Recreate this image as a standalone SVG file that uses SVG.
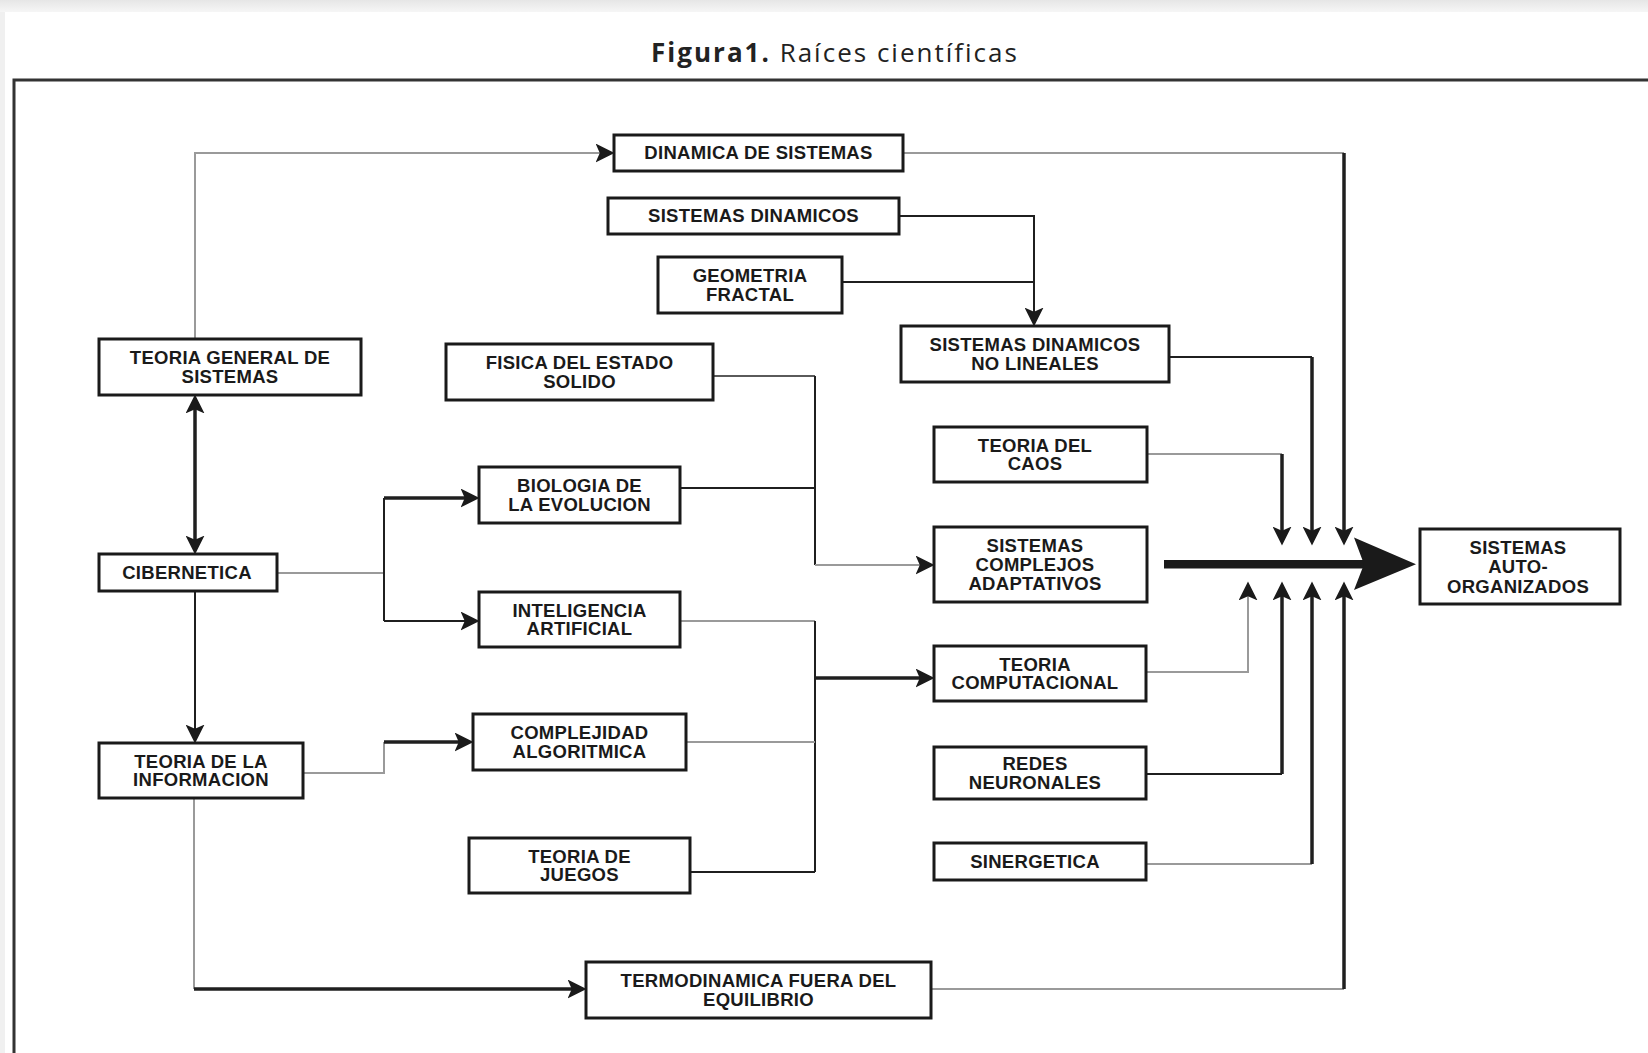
<svg xmlns="http://www.w3.org/2000/svg" width="1648" height="1053" viewBox="0 0 1648 1053">
<defs>
<linearGradient id="topband" x1="0" y1="0" x2="0" y2="1">
<stop offset="0" stop-color="#e6e6e6"/>
<stop offset="1" stop-color="#f6f6f6"/>
</linearGradient>
<marker id="ah" viewBox="0 0 18 18" markerWidth="19" markerHeight="19" refX="8" refY="9" orient="auto-start-reverse" markerUnits="userSpaceOnUse">
<path d="M0,0 L18,9 L0,18 L4,9 z" fill="#1a1a1a"/>
</marker>
</defs>
<style>
.box{fill:#fff;stroke:#1a1a1a;stroke-width:3}
.t{font-family:"Liberation Sans",Arial,sans-serif;font-weight:bold;font-size:18.5px;fill:#1a1a1a;text-anchor:middle;letter-spacing:0.3px}
.g{fill:none;stroke:#9a9a9a;stroke-width:2}
.d{fill:none;stroke:#5a5a5a;stroke-width:2}
.k{fill:none;stroke:#1f1f1f;stroke-width:2}
.K{fill:none;stroke:#1f1f1f;stroke-width:3.5}
.a{marker-end:url(#ah)}
</style>
<rect x="0" y="0" width="1648" height="1053" fill="#f0f0f0"/>
<rect x="0" y="0" width="1648" height="12" fill="url(#topband)"/>
<rect x="5" y="12" width="1643" height="1041" fill="#fff"/>
<text x="835" y="62" font-family="'Open Sans','Noto Sans',sans-serif" font-size="26" fill="#222" text-anchor="middle" letter-spacing="2"><tspan font-weight="bold">Figura1.</tspan> Raíces científicas</text>
<path d="M14,1053 V80 H1648" fill="none" stroke="#333" stroke-width="3"/>

<g id="connectors">
<path class="g a" d="M195,339 V153 H604"/>
<path class="g" d="M903,153 H1344"/>
<path class="K a" d="M1344,153 V535"/>
<path class="k a" d="M899,216 H1034 V316"/>
<path class="k" d="M842,282 H1034"/>
<path class="k" d="M1169,357 H1312" stroke-width="2.5"/>
<path class="K a" d="M1312,357 V535"/>
<path class="d" d="M713,376 H815"/>
<path class="k" d="M815,376 V565"/>
<path class="g a" d="M815,565 H924"/>
<path class="k" d="M680,488 H815"/>
<path class="g" d="M1147,454 H1282"/>
<path class="K a" d="M1282,454 V535"/>
<path class="g" d="M277,573 H384"/>
<path class="k" d="M384,498 V621"/>
<path class="K a" d="M384,498 H469"/>
<path class="k a" d="M384,621 H469"/>
<path class="g" d="M680,621 H815"/>
<path class="k" d="M815,621 V872"/>
<path class="K a" d="M815,678 H924"/>
<path class="g" d="M686,742 H815"/>
<path class="k" d="M690,872 H815"/>
<path class="g a" d="M1146,672 H1248 V592"/>
<path class="k" d="M1146,774 H1282" stroke-width="2.5"/>
<path class="K a" d="M1282,774 V592"/>
<path class="g" d="M1146,864 H1312"/>
<path class="K a" d="M1312,864 V592"/>
<path class="g" d="M931,989 H1344"/>
<path class="K a" d="M1344,989 V592"/>
<path class="K a" d="M195,405 V544" marker-start="url(#ah)"/>
<path class="k a" d="M195,591 V733"/>
<path class="g" d="M303,773 H384 V742"/>
<path class="K a" d="M384,742 H463"/>
<path class="g" d="M194,798 V989"/>
<path class="K a" d="M194,989 H576"/>
<rect x="1164" y="560" width="200" height="8.5" fill="#1a1a1a"/>
<polygon points="1354,537.5 1416,564.3 1354,590 1364,564.3" fill="#1a1a1a"/>
</g>

<g id="n-dinamica-sistemas"><rect class="box" x="614" y="135" width="289" height="36"/><text class="t" x="758.5" y="159.4">DINAMICA DE SISTEMAS</text></g>
<g id="n-sistemas-dinamicos"><rect class="box" x="608" y="198" width="291" height="36" stroke-width="3.5"/><text class="t" x="753.5" y="222.4">SISTEMAS DINAMICOS</text></g>
<g id="n-geometria-fractal"><rect class="box" x="658" y="257" width="184" height="56"/><text class="t" x="750" y="282">GEOMETRIA</text><text class="t" x="750" y="300.7">FRACTAL</text></g>
<g id="n-sdnl"><rect class="box" x="901" y="326" width="268" height="56"/><text class="t" x="1035" y="351">SISTEMAS DINAMICOS</text><text class="t" x="1035" y="369.7">NO LINEALES</text></g>
<g id="n-tgs"><rect class="box" x="99" y="339" width="262" height="56"/><text class="t" x="230" y="364">TEORIA GENERAL DE</text><text class="t" x="230" y="382.7">SISTEMAS</text></g>
<g id="n-fisica"><rect class="box" x="446" y="344" width="267" height="56"/><text class="t" x="579.5" y="369">FISICA DEL ESTADO</text><text class="t" x="579.5" y="387.7">SOLIDO</text></g>
<g id="n-caos"><rect class="box" x="934" y="427" width="213" height="55"/><text class="t" x="1035" y="451.5">TEORIA DEL</text><text class="t" x="1035" y="470.2">CAOS</text></g>
<g id="n-biologia"><rect class="box" x="479" y="467" width="201" height="56"/><text class="t" x="579.5" y="492">BIOLOGIA DE</text><text class="t" x="579.5" y="510.7">LA EVOLUCION</text></g>
<g id="n-sca"><rect class="box" x="934" y="527" width="213" height="75"/><text class="t" x="1035" y="551.9">SISTEMAS</text><text class="t" x="1035" y="570.8">COMPLEJOS</text><text class="t" x="1035" y="589.7">ADAPTATIVOS</text></g>
<g id="n-sao"><rect class="box" x="1420" y="529" width="200" height="75"/><text class="t" x="1518" y="553.5">SISTEMAS</text><text class="t" x="1518" y="573.3">AUTO-</text><text class="t" x="1518" y="593.1">ORGANIZADOS</text></g>
<g id="n-cibernetica"><rect class="box" x="99" y="554" width="178" height="37"/><text class="t" x="187" y="579">CIBERNETICA</text></g>
<g id="n-ia"><rect class="box" x="479" y="592" width="201" height="55"/><text class="t" x="579.5" y="616.5">INTELIGENCIA</text><text class="t" x="579.5" y="635.2">ARTIFICIAL</text></g>
<g id="n-tc"><rect class="box" x="934" y="646" width="212" height="55"/><text class="t" x="1035" y="670.5">TEORIA</text><text class="t" x="1035" y="689.2">COMPUTACIONAL</text></g>
<g id="n-complejidad"><rect class="box" x="473" y="714" width="213" height="56"/><text class="t" x="579.5" y="739">COMPLEJIDAD</text><text class="t" x="579.5" y="757.7">ALGORITMICA</text></g>
<g id="n-tinfo"><rect class="box" x="99" y="743" width="204" height="55"/><text class="t" x="201" y="767.5">TEORIA DE LA</text><text class="t" x="201" y="786.2">INFORMACION</text></g>
<g id="n-redes"><rect class="box" x="934" y="747" width="212" height="52"/><text class="t" x="1035" y="770">REDES</text><text class="t" x="1035" y="788.7">NEURONALES</text></g>
<g id="n-juegos"><rect class="box" x="469" y="838" width="221" height="55"/><text class="t" x="579.5" y="862.5">TEORIA DE</text><text class="t" x="579.5" y="881.2">JUEGOS</text></g>
<g id="n-sinergetica"><rect class="box" x="934" y="843" width="212" height="37"/><text class="t" x="1035" y="867.9">SINERGETICA</text></g>
<g id="n-termo"><rect class="box" x="586" y="962" width="345" height="56"/><text class="t" x="758.5" y="987">TERMODINAMICA FUERA DEL</text><text class="t" x="758.5" y="1005.7">EQUILIBRIO</text></g>
</svg>
